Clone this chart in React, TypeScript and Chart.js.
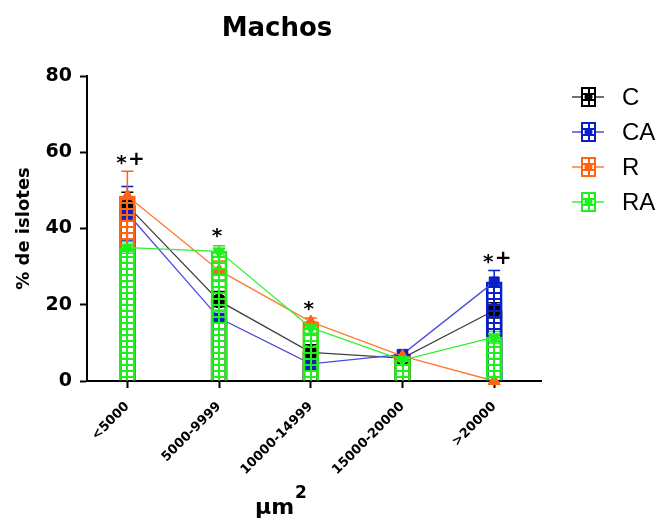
import React, { useEffect, useRef } from 'react';
import { Chart, registerables } from 'chart.js';
Chart.register(...registerables);

const categories = ['<5000', '5000-9999', '10000-14999', '15000-20000', '>20000'];
const seriesNames = ['C', 'CA', 'R', 'RA'];
const valuesC = [46, 21, 7.5, 6, 18.5];
const valuesCA = [44, 16.5, 4.5, 7, 26];
const valuesR = [48.5, 29, 15.5, 6.5, 0];
const valuesRA = [35, 34, 14, 5.5, 11.5];
const errC = [3.5, 2.5, 2, 1, 2];
const errCA = [7, 3, 1.5, 1, 3];
const errR = [6.5, 2.5, 1, 1, 0];
const errRA = [1.5, 1.5, 1.5, 1, 1.5];
const yTicks = [0, 20, 40, 60, 80];
const annCats = [0, 1, 2, 4];
const annMarks = ['*+', '*', '*', '*+'];
const annValues = [58, 38.5, 19.5, 32];

const seriesValues = [valuesC, valuesCA, valuesR, valuesRA];
const seriesErrors = [errC, errCA, errR, errRA];
const markColors = ['#000000', '#0a1fc8', '#ff6410', '#1ef01e'];
const lineColors = ['#404040', '#4a4ae0', '#ff7a30', '#30f030'];
const pointStyles = ['circle', 'rect', 'triangle', 'triangle'];
const pointRotations = [0, 0, 0, 180];
const barOrders = [8, 6, 4, 2];
const lineOrders = [7, 5, 3, 1];
const BAR_W = 16;
const FONT = "'DejaVu Sans', 'Liberation Sans', sans-serif";
const LFONT = "'Liberation Sans', Arial, sans-serif";

function makePattern(color: string, opaque: boolean, dx: number, dy: number): CanvasPattern | string {
  const c = document.createElement('canvas');
  c.width = 7;
  c.height = 6;
  const g = c.getContext('2d');
  if (!g) return color;
  g.fillStyle = color;
  g.fillRect(0, 0, 7, 6);
  if (opaque) {
    g.fillStyle = '#fff';
    g.fillRect(2, 2, 5, 4);
  } else {
    g.clearRect(2, 2, 5, 4);
  }
  const p = g.createPattern(c, 'repeat');
  if (!p) return color;
  try {
    p.setTransform(new DOMMatrix().translate(dx, dy));
  } catch (e) {
    /* ignore */
  }
  return p;
}

export default function App() {
  const ref = useRef<HTMLCanvasElement | null>(null);
  useEffect(() => {
    if (!ref.current) return;
    const cache: Record<string, CanvasPattern | string> = {};
    const barFill = (s: number) => (ctx: any) => {
      const i = ctx.dataIndex;
      const chart = ctx.chart;
      const xs = chart.scales && chart.scales.x;
      const ys = chart.scales && chart.scales.y;
      if (!xs || !ys || i === undefined) return markColors[s];
      const left = Math.round(xs.getPixelForValue(i) - BAR_W / 2);
      const base = Math.round(ys.getPixelForValue(0));
      const key = s + ':' + left + ':' + base;
      if (!cache[key]) cache[key] = makePattern(markColors[s], false, left, base + 1);
      return cache[key];
    };

    const barSets = seriesNames.map((name, s) => ({
      type: 'bar' as const,
      label: name + ' bar',
      data: categories.map((_, i) => ({ x: i, y: seriesValues[s][i] })),
      backgroundColor: barFill(s),
      borderColor: markColors[s],
      borderWidth: 2,
      barThickness: BAR_W,
      grouped: false,
      order: barOrders[s],
    }));
    const lineSets = seriesNames.map((name, s) => ({
      type: 'line' as const,
      label: name,
      data: categories.map((_, i) => ({ x: i, y: seriesValues[s][i] })),
      borderColor: lineColors[s],
      backgroundColor: markColors[s],
      borderWidth: 1.3,
      pointStyle: pointStyles[s],
      pointRotation: pointRotations[s],
      pointRadius: 7,
      pointBackgroundColor: markColors[s],
      pointBorderColor: markColors[s],
      pointBorderWidth: 1,
      clip: false as const,
      order: lineOrders[s],
    }));

    const overlay = {
      id: 'overlay',
      beforeDatasetsDraw(chart: any) {
        const ctx = chart.ctx;
        const xs = chart.scales.x;
        const ys = chart.scales.y;
        ctx.save();
        seriesNames.forEach((_, s) => {
          ctx.strokeStyle = markColors[s];
          ctx.lineWidth = 1.5;
          categories.forEach((_, i) => {
            const e = seriesErrors[s][i];
            if (!e) return;
            const x = xs.getPixelForValue(i);
            const y1 = ys.getPixelForValue(seriesValues[s][i] + e);
            const y0 = ys.getPixelForValue(seriesValues[s][i] - e);
            ctx.beginPath();
            ctx.moveTo(x, y0);
            ctx.lineTo(x, y1);
            ctx.moveTo(x - 6, y1);
            ctx.lineTo(x + 6, y1);
            ctx.moveTo(x - 6, y0);
            ctx.lineTo(x + 6, y0);
            ctx.stroke();
          });
        });
        ctx.restore();
      },
      afterDraw(chart: any) {
        const ctx = chart.ctx;
        const area = chart.chartArea;
        const xs = chart.scales.x;
        const ys = chart.scales.y;
        ctx.save();
        ctx.fillStyle = '#000';
        ctx.textBaseline = 'middle';
        ctx.textAlign = 'center';
        ctx.font = `bold 26px ${FONT}`;
        ctx.fillText('Machos', area.left + 190, 29);
        ctx.font = `bold 22px ${FONT}`;
        ctx.textAlign = 'left';
        const tx = area.left + 168;
        ctx.fillText('µm', tx, 508);
        const w = ctx.measureText('µm').width;
        ctx.font = `bold 17px ${FONT}`;
        ctx.fillText('2', tx + w + 1, 494);
        ctx.font = `bold 20px ${FONT}`;
        ctx.textAlign = 'center';
        annCats.forEach((c, k) => {
          const x = xs.getPixelForValue(c);
          const y = ys.getPixelForValue(annValues[k]);
          const m = annMarks[k];
          if (m.indexOf('+') >= 0) {
            ctx.fillText('*', x - 6, y + 4);
            ctx.fillText('+', x + 9, y);
          } else {
            ctx.fillText('*', x - 2, y + 3);
          }
        });
        const lx = 588;
        seriesNames.forEach((name, s) => {
          const ly = 97 + s * 35;
          ctx.strokeStyle = lineColors[s];
          ctx.lineWidth = 1.5;
          ctx.beginPath();
          ctx.moveTo(lx - 16, ly);
          ctx.lineTo(lx + 16, ly);
          ctx.stroke();
          ctx.fillStyle = makePattern(markColors[s], true, lx - 7, ly - 10) as any;
          ctx.fillRect(lx - 7, ly - 10, 15, 20);
          ctx.strokeStyle = markColors[s];
          ctx.lineWidth = 2;
          ctx.strokeRect(lx - 6, ly - 9, 13, 18);
          ctx.fillStyle = markColors[s];
          ctx.beginPath();
          ctx.arc(lx + 0.5, ly, 4, 0, Math.PI * 2);
          ctx.fill();
          ctx.fillStyle = '#000';
          ctx.textAlign = 'left';
          ctx.font = `24px ${LFONT}`;
          ctx.fillText(name, 622, ly + 1);
        });
        ctx.restore();
      },
    };

    const chart = new Chart(ref.current, {
      type: 'bar',
      data: { datasets: [...barSets, ...lineSets] as any },
      options: {
        animation: false,
        responsive: true,
        maintainAspectRatio: false,
        layout: { padding: { top: 76, right: 120, left: 0, bottom: 0 } },
        plugins: { legend: { display: false }, title: { display: false }, tooltip: { enabled: false } },
        scales: {
          x: {
            type: 'linear',
            offset: false,
            min: -0.44,
            max: 4.51,
            afterBuildTicks: (s: any) => {
              s.ticks = categories.map((_, i) => ({ value: i }));
            },
            afterFit: (s: any) => {
              s.height = 141;
            },
            ticks: {
              autoSkip: false,
              minRotation: 45,
              maxRotation: 45,
              color: '#000',
              padding: 11,
              font: { family: FONT, weight: 'bold', size: 13 },
              callback: (v: any) => categories[v] ?? '',
            },
            grid: { display: true, offset: false, drawOnChartArea: false, drawTicks: true, tickLength: 7, tickWidth: 2, tickColor: '#000', color: '#000' },
            border: { display: true, color: '#000', width: 2 },
          },
          y: {
            type: 'linear',
            min: 0,
            max: 80,
            afterBuildTicks: (s: any) => {
              s.ticks = yTicks.map((v) => ({ value: v }));
            },
            afterFit: (s: any) => {
              s.width = 87;
            },
            ticks: {
              color: '#000',
              padding: 8,
              font: { family: FONT, weight: 'bold', size: 19 },
            },
            grid: { display: true, drawOnChartArea: false, drawTicks: true, tickLength: 7, tickWidth: 2, tickColor: '#000', color: '#000' },
            border: { display: true, color: '#000', width: 2 },
            title: {
              display: true,
              text: '% de islotes',
              color: '#000',
              font: { family: FONT, weight: 'bold', size: 18 },
              padding: { top: 14, bottom: 0 },
            },
          },
        },
      } as any,
      plugins: [overlay],
    });
    return () => chart.destroy();
  }, []);

  return (
    <div style={{ position: 'absolute', left: 0, top: 0, width: 661, height: 522 }}>
      <canvas ref={ref} />
    </div>
  );
}
